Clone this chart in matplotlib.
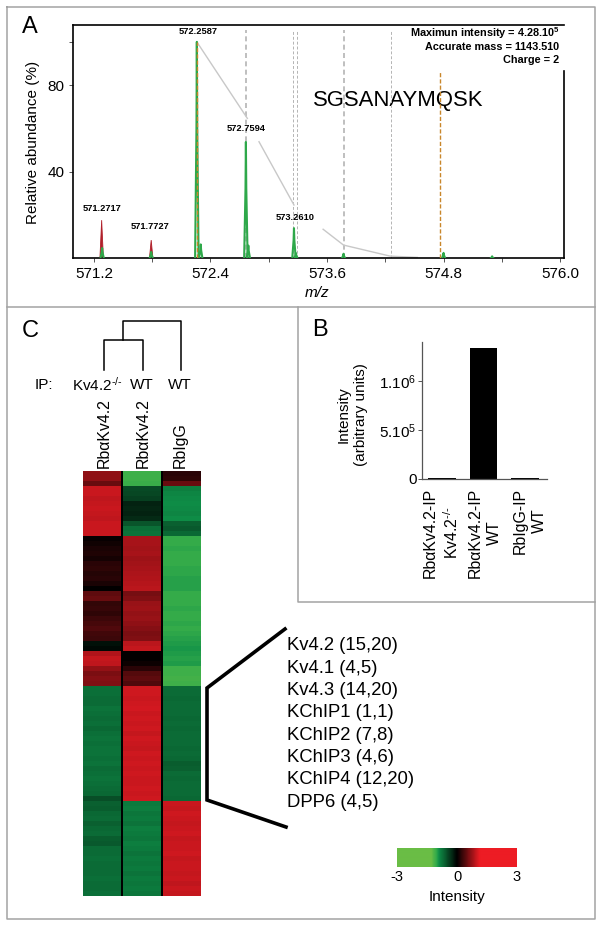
import numpy as np
import matplotlib
matplotlib.use("Agg")
import matplotlib.pyplot as plt
from matplotlib.colors import LinearSegmentedColormap

plt.rcParams['font.family'] = ['Liberation Sans', 'DejaVu Sans']
plt.rcParams['mathtext.fontset'] = 'custom'
plt.rcParams['mathtext.rm'] = 'Liberation Sans'
plt.rcParams['mathtext.it'] = 'Liberation Sans:italic'
plt.rcParams['mathtext.bf'] = 'Liberation Sans:bold'
plt.rcParams['mathtext.default'] = 'regular'

W, H = 602, 927
######################################
# A - spectrum
peak_mz_red = [571.28, 571.79]
peak_h_red = [17.7, 8.5]
peak_mz_green = [571.285, 571.79, 572.26, 572.30, 572.765, 572.79, 573.26, 573.28, 573.77, 574.80, 575.30]
peak_h_green = [4.8, 3.0, 100, 6.5, 53.8, 6.0, 14, 2.5, 2.2, 2.6, 1.0]
dash_mz_grey = [572.765, 573.25, 573.29, 573.77, 574.26]
dash_top_grey = [105.5, 105.5, 105.5, 105.5, 105.5]
dash_lw_grey = [1.2, 0.7, 0.7, 1.2, 0.7]
dash_mz_orange = [572.26, 574.76]
dash_top_orange = [100, 86.5]
env_mz = [[572.26, 572.78], [572.90, 573.26], [573.56, 573.77, 574.25, 574.53]]
env_h = [[100, 64.7], [53.9, 24.7], [13.5, 6.2, 1.1, 0.5]]
label_mz = [571.2717, 571.7727, 572.2587, 572.7594, 573.2610]
label_h = [23, 15, 105, 60, 19]
xticks_a = [571.2, 572.4, 573.6, 574.8, 576.0]
xminor_a = [571.8, 573.0, 574.2, 575.4]
yticks_a = [40, 80]
yminor_a = [100]
info_a = ["Maximun intensity = 4.28.10$^{\\mathbf{5}}$", "Accurate mass = 1143.510", "Charge = 2"]

# B - bars
bar_names = ["Rb\u03b1Kv4.2-IP\nKv4.2$^{\\text{-/-}}$", "Rb\u03b1Kv4.2-IP\nWT", "RbIgG-IP\nWT"]
bar_values = [6000, 1340000, 8000]

# C - heatmap, one value per row
heat_col1 = [.68,.7,.5,.97,.98,.92,.96,.98,.96,.93,
             .97,.98,.97,.03,.08,.12,.15,.1,.2,.22,
             .18,.2,.12,.02,.45,.5,.25,.28,.22,.3,
             .35,.38,.32,.3,-.1,-.05,.85,.95,.93,.72,
             .6,.65,.62,-.72,-.72,-.7,-.68,-.74,-.72,-.7,
             -.72,-.66,-.72,-.74,-.72,-.73,-.74,-.72,-.73,-.7,
             -.72,-.74,-.72,-.68,-.66,-.5,-.62,-.6,-.66,-.68,
             -.62,-.66,-.7,-.6,-.58,-.68,-.7,-.72,-.68,-.7,
             -.7,-.72,-.68,-.7,-.72]
heat_col2 = [-1.08,-1.1,-1.06,-.48,-.45,-.42,-.22,-.25,-.22,-.26,
             -.55,-.72,-.74,.82,.8,.78,.8,.76,.78,.8,
             .84,.86,.88,.9,.58,.62,.74,.76,.72,.74,
             .68,.64,.6,.62,.9,.95,0,.02,.06,.2,
             .42,.46,.38,1.0,1.0,.98,1.0,1.02,.98,1.0,
             .97,1.0,.95,1.0,.98,.96,1.0,.98,1.0,.98,
             1.0,.97,.98,1.0,.98,1.0,-.78,-.8,-.76,-.78,
             -.74,-.8,-.78,-.76,-.8,-.78,-.74,-.78,-.76,-.78,
             -.74,-.78,-.76,-.78,-.76]
heat_col3 = [.2,.22,.5,-.82,-.85,-.88,-.9,-.88,-.86,-.9,
             -.62,-.58,-.66,-1.04,-1.05,-1.03,-1.05,-1.04,-1.05,-1.03,
             -1.02,-1.0,-.99,-1.0,-1.05,-1.04,-1.05,-1.02,-1.05,-1.04,
             -1.03,-1.05,-1.02,-1.0,-.98,-.96,-.98,-1.0,-.98,-1.08,
             -1.1,-1.12,-1.1,-.7,-.68,-.66,-.68,-.7,-.68,-.66,
             -.68,-.66,-.68,-.7,-.68,-.66,-.68,-.66,-.6,-.62,
             -.68,-.66,-.68,-.7,-.68,-.66,.98,.96,1.0,.98,
             .94,.98,1.0,.96,.98,.97,1.0,.94,.98,.98,
             .96,.98,.92,.98,.95]
heat_names = ["Rb\u03b1Kv4.2", "Rb\u03b1Kv4.2", "RbIgG"]
ip_names = ["Kv4.2$^{\\text{-/-}}$", "WT", "WT"]
proteins = ["Kv4.2 (15,20)", "Kv4.1 (4,5)", "Kv4.3 (14,20)", "KChIP1 (1,1)",
            "KChIP2 (7,8)", "KChIP3 (4,6)", "KChIP4 (12,20)", "DPP6 (4,5)"]
cbar_ticks = [-3, 0, 3]
######################################
axsize = 11


def add_ax(l, t, r, b):
    return fig.add_axes([l / W, 1 - b / H, (r - l) / W, (b - t) / H])


fig = plt.figure(figsize=(W / 100, H / 100), dpi=100)

# page overlay in pixels, frames and free text go here
page = fig.add_axes([0, 0, 1, 1])
page.set_xlim(0, W)
page.set_ylim(H, 0)
page.axis('off')
frame = '#a3a3a3'
page.plot([7, 595, 595, 7, 7], [7, 7, 919, 919, 7], color=frame, lw=1.1)
page.plot([7, 595], [307, 307], color=frame, lw=1.1)
page.plot([298, 298, 595], [307, 602, 602], color=frame, lw=1.1)
page.text(30, 26.5, "A", fontsize=17, ha='center', va='center')
page.text(320, 330, "B", fontsize=17, ha='center', va='center')
page.text(30, 331, "C", fontsize=17, ha='center', va='center')

######################################
# A
ax = add_ax(73, 25, 564, 258.5)
ax.patch.set_alpha(0)
ax.set_xlim(570.985, 576.04)
ax.set_ylim(0, 107.8)
for mz, top, lw in zip(dash_mz_grey, dash_top_grey, dash_lw_grey):
    ax.plot([mz, mz], [0, top], color='#b4b4b4', lw=lw, ls=(0, (3, 2)), zorder=1)
for xs, ys in zip(env_mz, env_h):
    ax.plot(xs, ys, color='#c8c8c8', lw=1.0, zorder=1)
for mz, h in zip(peak_mz_red, peak_h_red):
    ax.fill([mz - 0.018, mz, mz + 0.018], [0, h, 0], color='#b0202a', lw=0.6, zorder=2)
for mz, h in zip(peak_mz_green, peak_h_green):
    ax.plot([mz - 0.018, mz - 0.004, mz, mz + 0.004, mz + 0.018], [0, h * 0.6, h, h * 0.6, 0],
            color='#2ea84a', lw=1.5, zorder=3)
for mz, top in zip(dash_mz_orange, dash_top_orange):
    ax.plot([mz, mz], [0, top], color='#c8862a', lw=1.0, ls=(0, (3, 1.5)), zorder=4)
for mz, h in zip(label_mz, label_h):
    ax.text(mz + 0.01, h, str("%.4f" % mz), fontsize=6.7, fontweight='bold', ha='center', va='center')
ax.spines['right'].set_bounds(0, 86.5)
for s in ax.spines.values():
    s.set_linewidth(1.2)
ax.set_xticks(xticks_a)
ax.set_xticklabels(["%.1f" % v for v in xticks_a], fontsize=axsize)
ax.set_xticks(xminor_a, minor=True)
ax.set_yticks(yticks_a)
ax.set_yticks(yminor_a, minor=True)
ax.tick_params(axis='both', which='both', length=3, width=0.7, color='#555555')
ax.tick_params(axis='x', pad=3)
ax.tick_params(axis='y', labelsize=axsize, pad=3)
page.text(33, 142, "Relative abundance (%)", rotation=90, fontsize=axsize, ha='center', va='center')
page.text(317, 293, "m/z", fontsize=axsize, style='italic', ha='center', va='center')
for i, t in enumerate(info_a):
    page.text(559.5, 33.5 + 13.2 * i, t, fontsize=7.8, fontweight='bold', ha='right', va='center')
page.text(398, 100, "SGSANAYMQSK", fontsize=15.9, ha='center', va='center')

######################################
# B
ax = add_ax(422, 342, 546.7, 478.5)
ax.patch.set_alpha(0)
ax.bar([0, 1, 2], bar_values, width=0.67, color='black')
ax.set_xlim(-0.48, 2.52)
ax.set_ylim(0, 1400000)
for s in ['top', 'right']:
    ax.spines[s].set_visible(False)
for s in ['left', 'bottom']:
    ax.spines[s].set_color('#555555')
    ax.spines[s].set_linewidth(0.9)
ax.set_xticks([])
ax.set_yticks([0, 500000, 1000000])
ax.set_yticklabels(["0", "5.10$^{5}$", "1.10$^{6}$"], fontsize=axsize)
ax.tick_params(axis='y', length=3, width=0.7, color='#555555', pad=1)
for x0, name in zip([442, 485, 530], bar_names):
    page.text(x0, 488, name, rotation=90, fontsize=11.4, ha='center', va='top',
              multialignment='center', linespacing=1.3)
page.text(352, 415, "Intensity\n(arbitrary units)", rotation=90, fontsize=axsize,
          ha='center', va='center', multialignment='center', linespacing=1.3)

######################################
# C
cmap_pts = [(-3, '#6abd45'), (-1.3, '#6abd45'), (-1.05, '#35ac4a'), (-0.92, '#0f8f48'),
            (0, '#000000'), (1.15, '#ed1c24'), (3, '#ed1c24')]
heat_cmap = LinearSegmentedColormap.from_list('heat', [((v + 3) / 6, c) for v, c in cmap_pts])

ax = add_ax(83, 471, 200, 896)
ax.set_facecolor('black')
for i, col in enumerate([heat_col1, heat_col2, heat_col3]):
    x0 = i * 1.08
    ax.imshow(np.array(col).reshape(-1, 1), cmap=heat_cmap, vmin=-3, vmax=3, aspect='auto',
              interpolation='nearest', extent=(x0, x0 + 1, len(col), 0))
ax.set_xlim(0, 3.16)
ax.set_ylim(len(heat_col1), 0)
ax.set_xticks([])
ax.set_yticks([])
for s in ax.spines.values():
    s.set_visible(False)

for x0, name in zip([104, 143, 180], heat_names):
    page.text(x0, 468, name, rotation=90, fontsize=11.4, ha='center', va='bottom')
page.text(35, 385, "IP:", fontsize=axsize, ha='left', va='center')
for x0, name in zip([97, 142, 180], ip_names):
    page.text(x0, 385, name, fontsize=axsize, ha='center', va='center')

# dendrogram
page.plot([104, 104, 142.7, 142.7], [370, 340, 340, 370], color='black', lw=1.1)
page.plot([123.3, 123.3, 180.7, 180.7], [340, 321, 321, 370], color='black', lw=1.1)

# bracket and protein list
page.plot([285, 207, 207, 286], [629, 688, 800, 827], color='black', lw=2.6, solid_joinstyle='miter')
for i, name in enumerate(proteins):
    page.text(287, 646 + 22.3 * i, name, fontsize=13.3, ha='left', va='center')

# colour scale
ax = add_ax(397, 848, 517, 867)
ax.imshow(np.linspace(-3, 3, 240).reshape(1, -1), cmap=heat_cmap, vmin=-3, vmax=3,
          aspect='auto', extent=(-3, 3, 0, 1))
ax.axis('off')
for v in cbar_ticks:
    page.text(457 + v * 20, 877, str(v), fontsize=10.5, ha='center', va='center')
page.text(457, 897, "Intensity", fontsize=axsize, ha='center', va='center')

fig.savefig('out.png', dpi=100)
